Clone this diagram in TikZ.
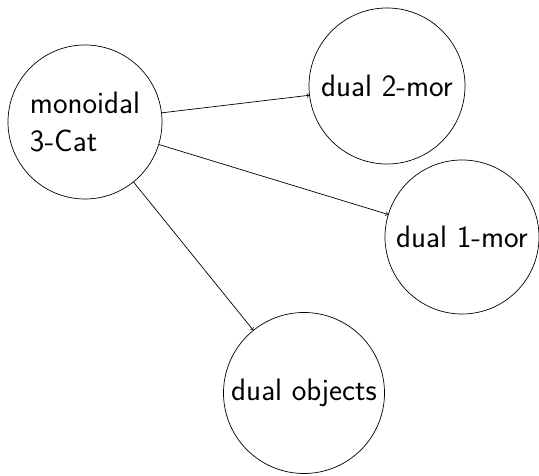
\documentclass[tikz,border=0pt]{standalone}
\tikzset{
  bubble/.style={circle, draw, line width=0.7pt, inner sep=0pt, font=\fontsize{31}{38}\selectfont\sffamily},
  link/.style={->, >={to[scale=1.4]}, line width=0.7pt}
}
\begin{document}
\begin{tikzpicture}[x=1pt,y=1pt]
\useasboundingbox (0,0) rectangle (539,476);
\node[bubble, minimum size=154pt, align=left] (m) at (85,354) {monoidal\\3-Cat};
\node[bubble, minimum size=156pt] (d2) at (387,390) {dual 2-mor};
\node[bubble, minimum size=154pt] (d1) at (462,239) {dual 1-mor};
\node[bubble, minimum size=161pt] (d0) at (304,83) {dual objects};
\draw[link] (m) -- (d2);
\draw[link] (m) -- (d1);
\draw[link] (m) -- (d0);
\end{tikzpicture}
\end{document}
